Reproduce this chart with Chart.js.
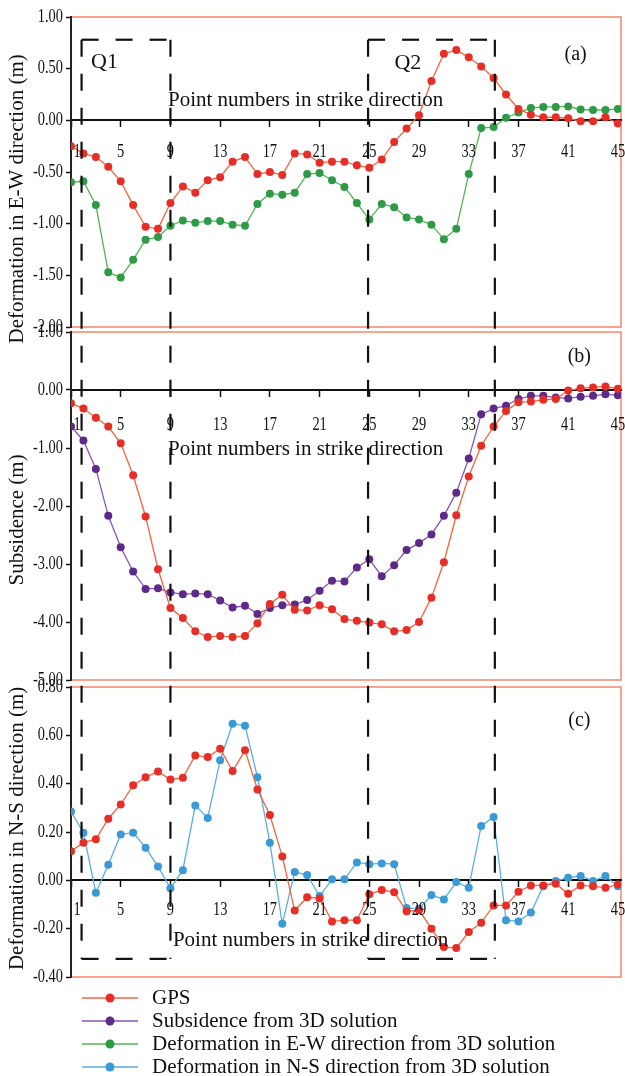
<!DOCTYPE html>
<html>
<head>
<meta charset="utf-8">
<script src="https://cdn.jsdelivr.net/npm/chart.js@4.4.1/dist/chart.umd.min.js"></script>
<style>
  html, body { margin: 0; padding: 0; background: #fff; }
  #page { position: relative; width: 625px; height: 1076px; overflow: hidden; font-family: "Liberation Serif", "Times New Roman", serif; }
  canvas.panel { position: absolute; left: 0; }
  #boxes { position: absolute; left: 0; top: 0; pointer-events: none; }
  #legend { position: absolute; left: 82px; top: 986px; }
  .row { display: flex; align-items: center; height: 23px; font-size: 21px; color: #111; white-space: nowrap; }
  .row svg { margin-right: 14px; }
</style>
</head>
<body>
<div id="page">
  <canvas id="chartA" class="panel" width="625" height="350" style="top:0px"></canvas>
  <canvas id="chartB" class="panel" width="625" height="372" style="top:320px"></canvas>
  <canvas id="chartC" class="panel" width="625" height="312" style="top:676px"></canvas>
  <canvas id="boxes" width="625" height="1076"></canvas>
  <div id="legend"></div>
</div>
<script>
// point numbers along strike
const pointNums = [1,2,3,4,5,6,7,8,9,10,11,12,13,14,15,16,17,18,19,20,21,22,23,24,25,26,27,28,29,30,31,32,33,34,35,36,37,38,39,40,41,42,43,44,45];
const xTickVals = [1,5,9,13,17,21,25,29,33,37,41,45];

// (a) E-W deformation
const gpsEW = [-0.25,-0.32,-0.355,-0.45,-0.59,-0.82,-1.03,-1.05,-0.80,-0.64,-0.70,-0.58,-0.55,-0.40,-0.355,-0.52,-0.50,-0.53,-0.32,-0.33,-0.41,-0.40,-0.40,-0.435,-0.46,-0.38,-0.21,-0.08,0.05,0.38,0.645,0.68,0.61,0.52,0.41,0.25,0.11,0.055,0.03,0.03,0.02,-0.01,-0.01,0.03,-0.03];
const ewSolution = [-0.60,-0.59,-0.82,-1.47,-1.52,-1.35,-1.155,-1.13,-1.02,-0.97,-0.99,-0.975,-0.975,-1.01,-1.02,-0.81,-0.71,-0.72,-0.70,-0.52,-0.51,-0.58,-0.645,-0.80,-0.96,-0.81,-0.84,-0.94,-0.96,-1.01,-1.15,-1.05,-0.52,-0.075,-0.065,0.025,0.075,0.12,0.13,0.13,0.135,0.105,0.10,0.10,0.11];
const ewTicks = [1,0.5,0,-0.5,-1,-1.5,-2];

// (b) subsidence
const gpsSub = [-0.23,-0.32,-0.48,-0.63,-0.92,-1.47,-2.18,-3.09,-3.76,-3.93,-4.16,-4.26,-4.24,-4.26,-4.24,-4.02,-3.69,-3.53,-3.79,-3.80,-3.71,-3.78,-3.95,-3.98,-4.01,-4.04,-4.16,-4.14,-4.00,-3.58,-2.97,-2.16,-1.49,-0.96,-0.63,-0.36,-0.21,-0.20,-0.17,-0.155,-0.01,0.03,0.045,0.06,0.02];
const subSolution = [-0.63,-0.87,-1.36,-2.17,-2.71,-3.13,-3.43,-3.42,-3.49,-3.52,-3.51,-3.52,-3.63,-3.75,-3.72,-3.86,-3.76,-3.71,-3.70,-3.62,-3.46,-3.29,-3.30,-3.06,-2.92,-3.21,-3.02,-2.76,-2.64,-2.49,-2.17,-1.77,-1.18,-0.42,-0.32,-0.27,-0.155,-0.10,-0.10,-0.13,-0.145,-0.115,-0.10,-0.075,-0.09];
const subTicks = [1,0,-1,-2,-3,-4,-5];

// (c) N-S deformation
const gpsNS = [0.12,0.156,0.17,0.255,0.314,0.393,0.427,0.45,0.417,0.425,0.517,0.51,0.545,0.452,0.538,0.376,0.27,0.099,-0.125,-0.07,-0.075,-0.17,-0.165,-0.165,-0.058,-0.04,-0.049,-0.128,-0.124,-0.20,-0.276,-0.28,-0.214,-0.176,-0.104,-0.104,-0.047,-0.021,-0.021,-0.014,-0.056,-0.021,-0.024,-0.031,-0.017];
const nsSolution = [0.285,0.197,-0.051,0.064,0.19,0.197,0.135,0.057,-0.033,0.042,0.31,0.258,0.497,0.648,0.64,0.427,0.156,-0.18,0.035,0.022,-0.065,0.004,0.004,0.074,0.067,0.07,0.067,-0.114,-0.118,-0.061,-0.079,-0.007,-0.031,0.225,0.262,-0.165,-0.17,-0.133,-0.024,-0.003,0.011,0.018,-0.003,0.018,-0.024];
const nsTicks = [0.8,0.6,0.4,0.2,0,-0.2,-0.4];

const seriesNames = ['GPS', 'Subsidence from 3D solution', 'Deformation in E-W direction from 3D solution', 'Deformation in N-S direction from 3D solution'];

const FONT = '"Liberation Serif", "Times New Roman", serif';
const INK = '#111';
const FRAME = '#f5876a';
const SQUEEZE = 0.8;   // the tick numbers in the figure are narrow
const col = {
  gps: { line: '#f2643f', dot: '#e62e26' },
  sub: { line: '#8a55b5', dot: '#5e2a8a' },
  ew:  { line: '#55b55a', dot: '#2f9a45' },
  ns:  { line: '#5aaee0', dot: '#3a9ad6' }
};

function toPoints(vals) {
  return vals.map((v, i) => ({ x: pointNums[i], y: v }));
}

function series(label, vals, c) {
  return {
    label: label,
    data: toPoints(vals),
    borderColor: c.line,
    backgroundColor: c.dot,
    pointBackgroundColor: c.dot,
    pointBorderWidth: 0,
    pointRadius: 4,
    borderWidth: 1.3,
    tension: 0
  };
}

// orange frame round the plot area
const framePlugin = {
  id: 'frame',
  beforeDraw(chart) {
    const { ctx, chartArea: a } = chart;
    ctx.save();
    ctx.strokeStyle = FRAME;
    ctx.lineWidth = 1.5;
    ctx.strokeRect(a.left, a.top, a.right - a.left, a.bottom - a.top);
    ctx.restore();
  }
};

function squeezedText(ctx, text, x, y, align) {
  ctx.save();
  ctx.translate(x, y);
  ctx.scale(SQUEEZE, 1);
  ctx.textAlign = align;
  ctx.fillText(text, 0, 0);
  ctx.restore();
}

// tick numbers, side title and free notes
const textPlugin = {
  id: 'texts',
  afterDraw(chart, args, opts) {
    const ctx = chart.ctx;
    const xs = chart.scales.x, ys = chart.scales.y;
    ctx.save();
    ctx.fillStyle = INK;
    ctx.textBaseline = 'middle';

    ctx.font = '18px ' + FONT;
    ys.ticks.forEach(t => {
      squeezedText(ctx, t.value.toFixed(2), ys.right - 8, ys.getPixelForValue(t.value), 'right');
    });
    const ly = ys.getPixelForValue(0) + opts.xLabelGap;
    xs.ticks.forEach((t, i) => {
      let px = xs.getPixelForValue(t.value);
      if (i === 0) px += 6;
      squeezedText(ctx, String(t.value), px, ly, 'center');
    });

    ctx.save();
    ctx.font = '21px ' + FONT;
    ctx.translate(17, ys.getPixelForValue(opts.titleAt));
    ctx.rotate(-Math.PI / 2);
    ctx.textAlign = 'center';
    ctx.fillText(opts.title, 0, 0);
    ctx.restore();

    (opts.items || []).forEach(n => {
      ctx.font = n.size + 'px ' + FONT;
      ctx.textAlign = n.align || 'center';
      ctx.fillText(n.text, xs.getPixelForValue(n.x), ys.getPixelForValue(n.y));
    });
    ctx.restore();
  }
};

function makePanel(id, datasets, yMin, yMax, yTicks, pad, text) {
  return new Chart(document.getElementById(id), {
    type: 'line',
    data: { datasets: datasets },
    plugins: [framePlugin, textPlugin],
    options: {
      responsive: false,
      animation: false,
      layout: { padding: pad },
      plugins: {
        legend: { display: false },
        tooltip: { enabled: false },
        texts: text
      },
      scales: {
        x: {
          type: 'linear',
          min: 1,
          max: 45.25,
          position: { y: 0 },
          afterBuildTicks: s => { s.ticks = xTickVals.map(v => ({ value: v })); },
          afterFit: s => { s.paddingLeft = 0; s.paddingRight = 0; },
          border: { display: true, color: INK, width: 2 },
          grid: { drawOnChartArea: false, tickLength: 6, tickColor: INK, tickWidth: 1.5 },
          ticks: { display: false }
        },
        y: {
          min: yMin,
          max: yMax,
          afterBuildTicks: s => { s.ticks = yTicks.map(v => ({ value: v })); },
          afterFit: s => { s.width = 71; },
          border: { display: true, color: '#2b1d18', width: 2 },
          grid: { drawOnChartArea: false, tickLength: 5, tickColor: INK, tickWidth: 1.5 },
          ticks: { display: false }
        }
      }
    }
  });
}

const chartA = makePanel('chartA',
  [series(seriesNames[0], gpsEW, col.gps), series(seriesNames[2], ewSolution, col.ew)],
  -2, 1, ewTicks, { top: 17, bottom: 23, left: 0, right: 1 },
  {
    title: 'Deformation in E-W direction (m)', titleAt: -0.76, xLabelGap: 32,
    items: [
      { text: 'Point numbers in strike direction', x: 8.8, y: 0.19, size: 21, align: 'left' },
      { text: '(a)', x: 41.6, y: 0.63, size: 20 },
      { text: 'Q1', x: 3.7, y: 0.56, size: 22 },
      { text: 'Q2', x: 28.1, y: 0.55, size: 22 }
    ]
  });

const chartB = makePanel('chartB',
  [series(seriesNames[0], gpsSub, col.gps), series(seriesNames[1], subSolution, col.sub)],
  -5, 1, subTicks, { top: 12, bottom: 12, left: 0, right: 1 },
  {
    title: 'Subsidence (m)', titleAt: -2.24, xLabelGap: 35,
    items: [
      { text: 'Point numbers in strike direction', x: 8.8, y: -1.03, size: 21, align: 'left' },
      { text: '(b)', x: 41.9, y: 0.57, size: 20 }
    ]
  });

const chartC = makePanel('chartC',
  [series(seriesNames[0], gpsNS, col.gps), series(seriesNames[3], nsSolution, col.ns)],
  -0.4, 0.8, nsTicks, { top: 11, bottom: 11, left: 0, right: 1 },
  {
    title: 'Deformation in N-S direction (m)', titleAt: 0.215, xLabelGap: 30,
    items: [
      { text: 'Point numbers in strike direction', x: 9.2, y: -0.25, size: 21, align: 'left' },
      { text: '(c)', x: 41.9, y: 0.66, size: 20 }
    ]
  });

// dashed Q1 / Q2 boxes running through all three panels
function drawBoxes() {
  const cv = document.getElementById('boxes');
  const ctx = cv.getContext('2d');
  const offA = chartA.canvas.offsetTop;
  const offC = chartC.canvas.offsetTop;
  const top = offA + chartA.scales.y.getPixelForValue(0.78);
  const bottom = offC + chartC.scales.y.getPixelForValue(-0.325);
  const boxes = [[1.85, 9], [24.9, 35.1]];
  ctx.strokeStyle = INK;
  ctx.lineWidth = 2.2;
  ctx.setLineDash([17, 17]);
  boxes.forEach(b => {
    const l = chartA.scales.x.getPixelForValue(b[0]);
    const r = chartA.scales.x.getPixelForValue(b[1]);
    [[l, top, r, top], [l, top, l, bottom], [r, top, r, bottom], [l, bottom, r, bottom]].forEach(s => {
      ctx.beginPath();
      ctx.moveTo(s[0], s[1]);
      ctx.lineTo(s[2], s[3]);
      ctx.stroke();
    });
  });
}
drawBoxes();

// legend
const legendColors = [col.gps, col.sub, col.ew, col.ns];
const legend = document.getElementById('legend');
seriesNames.forEach((name, i) => {
  const row = document.createElement('div');
  row.className = 'row';
  const c = legendColors[i];
  row.innerHTML = '<svg width="56" height="12"><line x1="0" y1="6" x2="56" y2="6" stroke="' + c.line +
    '" stroke-width="1.5"/><circle cx="28" cy="6" r="4.5" fill="' + c.dot + '"/></svg><span>' + name + '</span>';
  legend.appendChild(row);
});
</script>
</body>
</html>
